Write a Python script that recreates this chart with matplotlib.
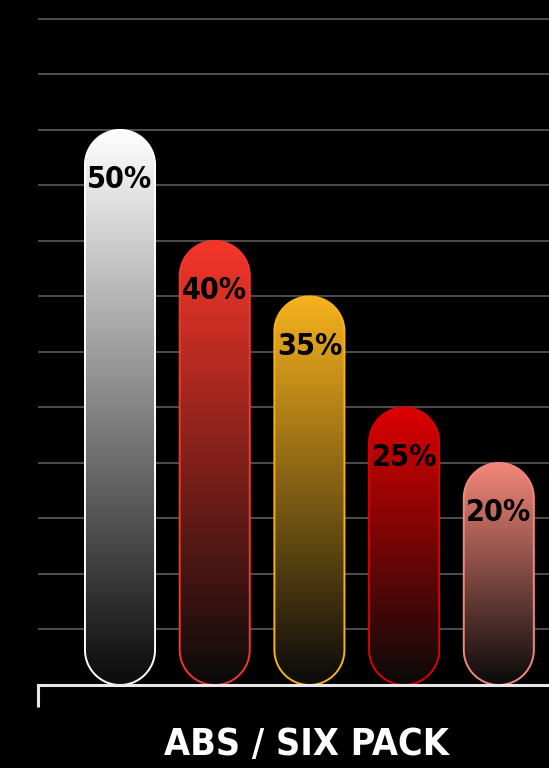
import numpy as np
import matplotlib.pyplot as plt
from matplotlib.patches import Polygon
from matplotlib import font_manager
from matplotlib.font_manager import FontProperties
from matplotlib.colors import to_rgb

# data
categories = ['A', 'B', 'C', 'D', 'E']
values = [50, 40, 35, 25, 20]
labels = ['50%', '40%', '35%', '25%', '20%']
bar_colors = ['#ffffff', '#f5362a', '#f7b21d', '#dd0000', '#f4877a']
title = 'ABS / SIX PACK'


def pick_font():
    cands = []
    for f in font_manager.fontManager.ttflist:
        n = f.name + ' ' + str(f.stretch) + ' ' + f.fname
        narrow = any(k in n.lower() for k in ('narrow', 'condensed'))
        if narrow:
            w = f.weight if isinstance(f.weight, int) else (700 if 'bold' in str(f.weight) else 400)
            cands.append((abs(w - 750), f.fname))
    if cands:
        cands.sort()
        return FontProperties(fname=cands[0][1])
    return FontProperties(family='DejaVu Sans', weight='bold', stretch='condensed')


fp = pick_font()

W, H = 549, 768
fig = plt.figure(figsize=(W / 100, H / 100), dpi=100, facecolor='black')
ax = fig.add_axes([38 / W, (H - 685) / H, (W - 38) / W, 685 / H])
ax.set_facecolor('black')

x = np.arange(len(values))
xlim = (-0.866, 4.53)
ylim = (0, 61.7)
ax.set_xlim(*xlim)
ax.set_ylim(*ylim)

# grid
ax.set_yticks(np.arange(5, 61, 5))
ax.yaxis.grid(True, color='white', alpha=0.33, lw=1.3, zorder=5)
ax.set_axisbelow(False)
ax.tick_params(axis='y', length=0, labelleft=False)

for s in ['top', 'right', 'left']:
    ax.spines[s].set_visible(False)
ax.spines['bottom'].set_color('#e8e8e8')
ax.spines['bottom'].set_linewidth(2.2)
ax.spines['bottom'].set_zorder(6)
ax.set_xticks([xlim[0]])
ax.set_xticklabels([''])
ax.tick_params(axis='x', length=16, width=2.2, color='#e8e8e8', direction='out')

# pixel aspect for round ends
fig.canvas.draw()
bb = ax.get_window_extent()
px_x = (xlim[1] - xlim[0]) / bb.width
px_y = (ylim[1] - ylim[0]) / bb.height
aspect = px_y / px_x

width = 0.74
rx = width / 2
ry = rx * aspect
th = np.linspace(0, np.pi, 60)


def stadium(xc, v):
    top = np.column_stack([xc + rx * np.cos(th), v - ry + ry * np.sin(th)])
    bot = np.column_stack([xc - rx * np.cos(th), ry - ry * np.sin(th)])
    return np.vstack([top, bot])


texts = []
for xi, v, c, lab in zip(x, values, bar_colors, labels):
    patch = Polygon(stadium(xi, v), closed=True, facecolor='none',
                    edgecolor=c, lw=1.4, zorder=4)
    ax.add_patch(patch)
    top = np.array(to_rgb(c))
    bottom = np.array([0.04, 0.04, 0.04])
    t = np.linspace(0, 1, 256)[:, None]
    grad = (top * (1 - t) + bottom * t)[:, None, :]
    im = ax.imshow(grad, extent=(xi - rx, xi + rx, 0, v),
                   aspect='auto', zorder=3, origin='upper')
    im.set_clip_path(patch)
    tx = ax.text(xi, v - 4.5, lab, ha='center', va='center', color='black',
                 fontproperties=fp, fontsize=22, fontweight='bold', zorder=6)
    texts.append(tx)

ax.set_xlim(*xlim)
ax.set_ylim(*ylim)

tt = fig.text(306 / W, 1 - 745 / H, title, ha='center', va='center', color='white',
              fontproperties=fp, fontsize=36, fontweight='bold')

# fit text widths to the reference
fig.canvas.draw()
r = fig.canvas.get_renderer()
for tx in texts:
    w = tx.get_window_extent(r).width
    tx.set_fontsize(min(30, 22 * 65 / w))
w = tt.get_window_extent(r).width
tt.set_fontsize(min(44, 36 * 285 / w))

fig.savefig('out.png', dpi=100, facecolor='black')
